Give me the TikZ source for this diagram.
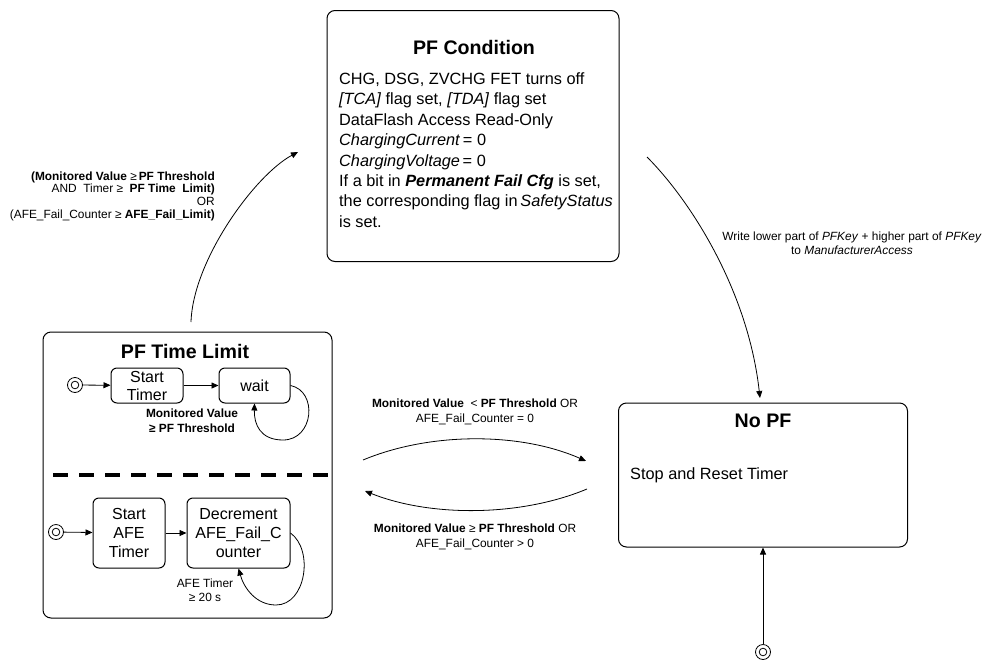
\documentclass[tikz,border=0pt]{standalone}
\usepackage{fontspec}
\setmainfont{Liberation Sans}
\usetikzlibrary{arrows.meta}
\begin{document}
\begin{tikzpicture}[x=1pt,y=-1pt,
  statebox/.style={draw, line width=1pt, rounded corners=8pt, inner sep=0pt},
  subbox/.style={draw, line width=1pt, rounded corners=6pt, inner sep=0pt, align=center,
    font=\fontsize{16}{18.5}\selectfont},
  title/.style={font=\fontsize{19.6}{22}\selectfont\bfseries, inner sep=0pt},
  lbl/.style={font=\fontsize{11.9}{15}\selectfont, inner sep=0pt, align=center},
  arr/.style={-{Triangle[length=7pt,width=6pt]}, line width=0.8pt},
  initst/.style={circle, draw, line width=0.8pt, minimum size=15pt, inner sep=0pt},
]
\useasboundingbox (0,0) rectangle (983,659);

% PF Condition
\node[statebox, minimum width=292pt, minimum height=251pt] (pfc) at (473,136) {};
\node[title] (pfct) at (474,47) {PF Condition};
\node[inner sep=0pt, align=left, anchor=west, font=\fontsize{16.3}{20.4}\selectfont] (pfcb) at (339,150) {%
CHG, DSG, ZVCHG FET turns off\\
\textit{[TCA]} flag set, \textit{[TDA]} flag set\\
DataFlash Access Read-Only\\
\textit{ChargingCurrent}\,= 0\\
\textit{ChargingVoltage}\,= 0\\
If a bit in \textbf{\textit{Permanent Fail Cfg}} is set,\\
the corresponding flag in\,\textit{SafetyStatus}\\
is set.};

% PF Time Limit
\node[statebox, minimum width=289pt, minimum height=286pt] (ptl) at (187.5,475) {};
\node[title] (ptlt) at (185,351) {PF Time Limit};
\node[initst] (i1) at (75,385) {};
\draw[line width=0.8pt] (i1.center) circle (3.8pt);
\node[subbox, minimum width=72pt, minimum height=35pt, font=\fontsize{16}{18}\selectfont] (st) at (147,385.5) {Start\\Timer};
\node[subbox, minimum width=71pt, minimum height=35pt] (wt) at (254.5,385.5) {wait};
\draw[arr] (i1) -- (st);
\draw[arr] (st) -- (wt);
\coordinate (wl) at (283,440);
\draw[arr] (wt.east) .. controls (318,391) and (314,440) .. (wl) .. controls (260,440) and (254,424) .. (wt.south);
\node[lbl, font=\fontsize{11.9}{15}\selectfont\bfseries] (wlab) at (192,421) {Monitored Value\\≥ PF Threshold};

\draw[line width=4pt, dash pattern=on 15pt off 11pt] (53,475) -- (332,475);

\node[initst] (i2) at (56,532) {};
\draw[line width=0.8pt] (i2.center) circle (3.8pt);
\node[subbox, minimum width=72pt, minimum height=70pt, font=\fontsize{16}{19}\selectfont] (sa) at (129,533) {Start\\AFE\\Timer};
\node[subbox, minimum width=103pt, minimum height=70pt, font=\fontsize{16}{19}\selectfont] (dc) at (238.5,533) {Decrement\\AFE\_Fail\_C\\ounter};
\draw[arr] (i2) -- (sa);
\draw[arr] (sa) -- (dc);
\coordinate (dl) at (276,605);
\draw[arr] (dc.east) .. controls (314,550) and (306,605) .. (dl) .. controls (256,605) and (244,588) .. (dc.south);
\node[lbl, font=\fontsize{11.9}{14}\selectfont] (dlab) at (205,590) {AFE Timer\\≥ 20 s};

% No PF
\node[statebox, minimum width=289pt, minimum height=144pt] (npf) at (763,475) {};
\node[title] (npft) at (763,421) {No PF};
\node[inner sep=0pt, anchor=west, font=\fontsize{16.3}{18}\selectfont] (npfb) at (630,475) {Stop and Reset Timer};
\node[initst] (i3) at (763,652) {};
\draw[line width=0.8pt] (i3.center) circle (3.8pt);
\draw[arr] (i3) -- (npf.south);

% transitions
\coordinate (a1s) at (191,322);
\coordinate (a1e) at (298,152);
\draw[arr] (a1s) .. controls (193,260) and (255,175) .. (a1e);
\node[inner sep=0pt, align=right, anchor=east, font=\fontsize{11.9}{12.7}\selectfont] (a1l) at (215,196) {%
\textbf{(Monitored Value} ≥\,\textbf{PF Threshold}\\
AND\ \ Timer ≥\ \ \textbf{PF Time\ \ Limit)}\\
OR\\
(AFE\_Fail\_Counter ≥ \textbf{AFE\_Fail\_Limit)}};

\coordinate (a2s) at (647,157);
\coordinate (a2e) at (760,398);
\draw[arr] (a2s) .. controls (690,200) and (748,290) .. (a2e);
\node[lbl, font=\fontsize{11.9}{13.5}\selectfont] (a2l) at (852,243) {Write lower part of \textit{PFKey} + higher part of \textit{PFKey}\\to \textit{ManufacturerAccess}};

\coordinate (a3s) at (363,460);
\coordinate (a3e) at (586,461);
\draw[arr] (a3s) .. controls (430,432) and (520,432) .. (a3e);
\node[lbl] (a3l) at (475,412) {\textbf{Monitored Value}\ \ <\ \textbf{PF Threshold} OR\\AFE\_Fail\_Counter = 0};

\coordinate (a4s) at (587,489);
\coordinate (a4e) at (365,491);
\draw[arr] (a4s) .. controls (520,517) and (430,517) .. (a4e);
\node[lbl] (a4l) at (475,537) {\textbf{Monitored Value} ≥ \textbf{PF Threshold} OR\\AFE\_Fail\_Counter > 0};
\end{tikzpicture}
\end{document}
